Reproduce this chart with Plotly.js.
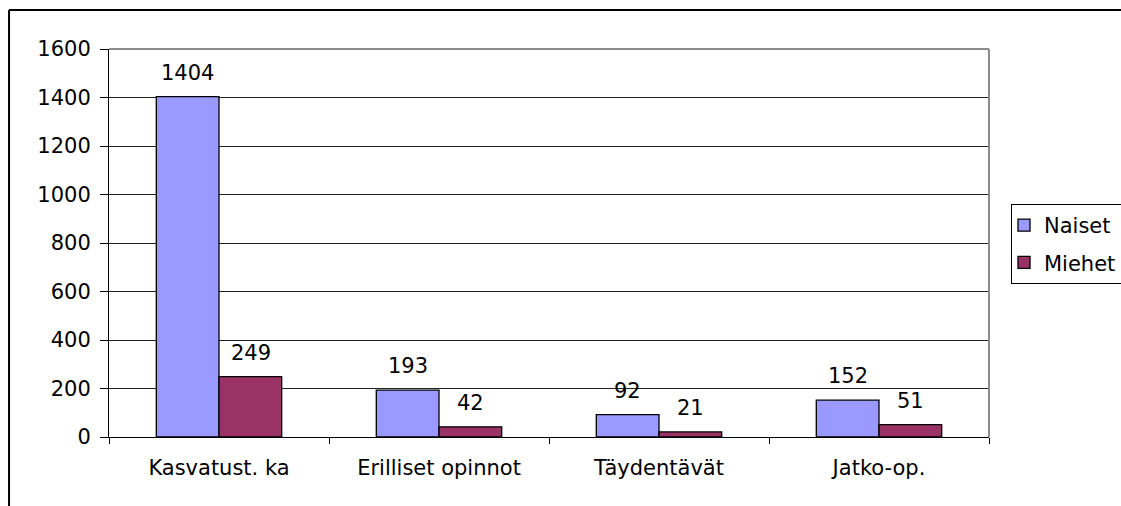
<!DOCTYPE html>
<html>
<head>
<meta charset="utf-8">
<script src="https://cdn.plot.ly/plotly-3.0.1.min.js"></script>
<style>
html,body{margin:0;padding:0;background:#fff;}
#chart{width:1121px;height:506px;}
</style>
</head>
<body>
<div id="chart"></div>
<script>
// Data
const categories = ["Kasvatust. ka", "Erilliset opinnot", "Täydentävät", "Jatko-op."];
const naiset = [1404, 193, 92, 152];
const miehet = [249, 42, 21, 51];
const seriesNames = ["Naiset", "Miehet"];
const yTicks = [0, 200, 400, 600, 800, 1000, 1200, 1400, 1600];

const FONT = "DejaVu Sans, Liberation Sans, Arial, sans-serif";
const FS = 21;

const traces = [
  {type: "bar", name: seriesNames[0], x: categories, y: naiset, legendgroup: "a",
   marker: {color: "#9999FF", line: {color: "#000", width: 1.3}}, hoverinfo: "x+y"},
  {type: "bar", name: seriesNames[1], x: categories, y: miehet, legendgroup: "b",
   marker: {color: "#993366", line: {color: "#000", width: 1.3}}, hoverinfo: "x+y"}
];

// value labels above bars
const annotations = [];
const halfBar = 31.5;
categories.forEach((c, i) => {
  annotations.push({x: c, y: naiset[i], text: String(naiset[i]), showarrow: false,
    xshift: -halfBar, yshift: 24, yanchor: "middle", font: {family: FONT, size: FS, color: "#000"}});
  annotations.push({x: c, y: miehet[i], text: String(miehet[i]), showarrow: false,
    xshift: halfBar, yshift: 24, yanchor: "middle", font: {family: FONT, size: FS, color: "#000"}});
});

const layout = {
  width: 1121, height: 506,
  margin: {l: 109, r: 132, t: 49, b: 69, autoexpand: false},
  paper_bgcolor: "#fff", plot_bgcolor: "#fff",
  font: {family: FONT, size: FS, color: "#000"},
  barmode: "group", bargap: 0.43, bargroupgap: 0,
  showlegend: true,
  legend: {x: 1.025, xanchor: "left", y: 0.6005, yanchor: "top",
    bordercolor: "#000", borderwidth: 1, bgcolor: "#fff", indentation: -8,
    font: {family: FONT, size: FS, color: "#000"}, tracegroupgap: 7, itemwidth: 30},
  xaxis: {type: "category", showline: true, linecolor: "#000", linewidth: 1,
    ticks: "outside", tickson: "boundaries", ticklen: 6, tickcolor: "#000", tickwidth: 1,
    showgrid: false, zeroline: false, ticklabelstandoff: 12, fixedrange: true},
  yaxis: {range: [0, 1600], tickvals: yTicks, ticktext: yTicks.map(String),
    showline: true, linecolor: "#000", linewidth: 1,
    ticks: "outside", ticklen: 8, tickcolor: "#000", tickwidth: 1,
    showgrid: true, gridcolor: "#222", gridwidth: 1, zeroline: false,
    ticklabelstandoff: 5, fixedrange: true},
  annotations: annotations,
  shapes: [
    // grey plot-area border (top and right)
    {type: "line", xref: "paper", yref: "paper", x0: 0, x1: 1, y0: 1, y1: 1, line: {color: "#8c8c8c", width: 2}, layer: "above"},
    {type: "line", xref: "paper", yref: "paper", x0: 1, x1: 1, y0: 0, y1: 1, line: {color: "#8c8c8c", width: 2}, layer: "above"},
    // outer chart frame (left and top)
    {type: "line", xref: "paper", yref: "paper", x0: -0.1136, x1: 1.2, y0: 1.1005, y1: 1.1005, line: {color: "#000", width: 2}, layer: "above"},
    {type: "line", xref: "paper", yref: "paper", x0: -0.1136, x1: -0.1136, y0: -0.2, y1: 1.1005, line: {color: "#000", width: 2}, layer: "above"}
  ]
};

Plotly.newPlot("chart", traces, layout, {displayModeBar: false, staticPlot: true});
</script>
</body>
</html>
